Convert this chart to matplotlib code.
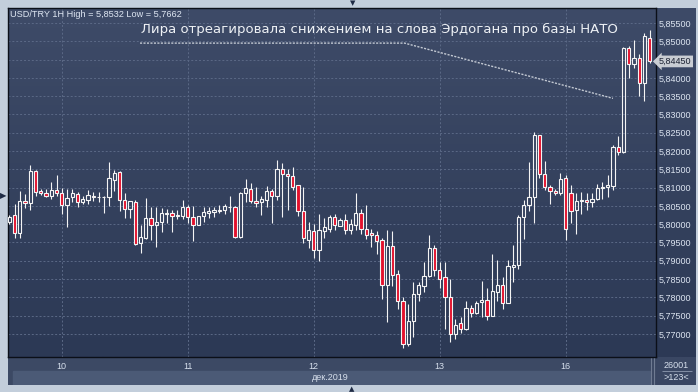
import numpy as np
import matplotlib
matplotlib.use("Agg")
import matplotlib.pyplot as plt
from matplotlib.colors import LinearSegmentedColormap
from matplotlib.patches import Rectangle
from matplotlib.ticker import FuncFormatter

# USD/TRY 1H candles, Dec 9 14:00 .. Dec 16 16:00
opens = [5.8005, 5.8024, 5.7975, 5.8064, 5.8057, 5.8145, 5.8091, 5.8085, 5.8078, 5.8094,
         5.8085, 5.8052, 5.8074, 5.8082, 5.8060, 5.8067, 5.8078, 5.8074, 5.8074, 5.8075,
         5.8122, 5.8142, 5.8067, 5.8041, 5.8060, 5.7948, 5.7962, 5.8016, 5.7999, 5.8005,
         5.8029, 5.8030, 5.8023, 5.8023, 5.8046, 5.8019, 5.7998, 5.8023, 5.8030, 5.8034,
         5.8036, 5.8039, 5.8047, 5.8046, 5.7966, 5.8085, 5.8097, 5.8064, 5.8060, 5.8067,
         5.8090, 5.8078, 5.8151, 5.8138, 5.8132, 5.8108, 5.8036, 5.7957, 5.7982, 5.7930,
         5.7982, 5.7988, 5.8019, 5.7996, 5.8011, 5.7985, 5.7999, 5.8031, 5.7988, 5.7977,
         5.7971, 5.7956, 5.7834, 5.7940, 5.7864, 5.7790, 5.7672, 5.7736, 5.7810, 5.7832,
         5.7858, 5.7935, 5.7875, 5.7855, 5.7800, 5.7700, 5.7730, 5.7714, 5.7771, 5.7757,
         5.7787, 5.7793, 5.7748, 5.7815, 5.7834, 5.7784, 5.7884, 5.7889, 5.8020, 5.8052,
         5.8075, 5.8244, 5.8136, 5.8102, 5.8092, 5.8084, 5.8127, 5.8084, 5.8038, 5.8063,
         5.8065, 5.8061, 5.8070, 5.8099, 5.8101, 5.8105, 5.8212, 5.8198, 5.8483, 5.8437,
         5.8455, 5.8386, 5.8509]
highs = [5.8025, 5.8054, 5.8090, 5.8083, 5.8162, 5.8149, 5.8097, 5.8097, 5.8115, 5.8135,
         5.8099, 5.8097, 5.8097, 5.8087, 5.8076, 5.8094, 5.8089, 5.8089, 5.8076, 5.8170,
         5.8149, 5.8145, 5.8085, 5.8064, 5.8066, 5.7998, 5.8071, 5.8046, 5.8046, 5.8044,
         5.8042, 5.8038, 5.8038, 5.8066, 5.8053, 5.8051, 5.8023, 5.8046, 5.8046, 5.8046,
         5.8053, 5.8054, 5.8078, 5.8051, 5.8088, 5.8124, 5.8113, 5.8101, 5.8078, 5.8104,
         5.8097, 5.8176, 5.8168, 5.8151, 5.8156, 5.8108, 5.8101, 5.8005, 5.8000, 5.8028,
         5.8017, 5.8025, 5.8028, 5.8017, 5.8028, 5.8014, 5.8086, 5.8042, 5.8053, 5.7988,
         5.7981, 5.7963, 5.7985, 5.7981, 5.7874, 5.7802, 5.7782, 5.7842, 5.7842, 5.7898,
         5.7970, 5.7942, 5.7896, 5.7898, 5.7851, 5.7741, 5.7746, 5.7791, 5.7779, 5.7791,
         5.7846, 5.7825, 5.7919, 5.7903, 5.7855, 5.7901, 5.7944, 5.8024, 5.8065, 5.8169,
         5.8253, 5.8244, 5.8173, 5.8108, 5.8096, 5.8139, 5.8134, 5.8108, 5.8086, 5.8088,
         5.8086, 5.8086, 5.8111, 5.8116, 5.8134, 5.8217, 5.8240, 5.8484, 5.8487, 5.8503,
         5.8464, 5.8524, 5.8532]
lows = [5.8000, 5.7962, 5.7962, 5.8043, 5.8040, 5.8076, 5.8080, 5.8074, 5.8069, 5.8076,
        5.8029, 5.7993, 5.8062, 5.8048, 5.8054, 5.8056, 5.8064, 5.8062, 5.8031, 5.8051,
        5.8092, 5.8035, 5.8016, 5.8016, 5.7943, 5.7920, 5.7960, 5.7958, 5.7938, 5.7978,
        5.8004, 5.7980, 5.8014, 5.8014, 5.8002, 5.7955, 5.7998, 5.8006, 5.8018, 5.8021,
        5.8031, 5.8027, 5.8032, 5.7961, 5.7963, 5.8062, 5.8058, 5.8046, 5.8025, 5.8046,
        5.8003, 5.8066, 5.8020, 5.8040, 5.8094, 5.8023, 5.7948, 5.7935, 5.7907, 5.7900,
        5.7962, 5.7979, 5.7985, 5.7994, 5.7973, 5.7973, 5.7985, 5.7973, 5.7959, 5.7938,
        5.7919, 5.7796, 5.7734, 5.7831, 5.7768, 5.7662, 5.7668, 5.7691, 5.7789, 5.7816,
        5.7855, 5.7858, 5.7825, 5.7714, 5.7679, 5.7687, 5.7703, 5.7712, 5.7747, 5.7755,
        5.7746, 5.7737, 5.7748, 5.7791, 5.7767, 5.7784, 5.7842, 5.7878, 5.7960, 5.8035,
        5.8004, 5.8127, 5.8093, 5.8054, 5.8081, 5.8081, 5.7958, 5.8004, 5.7974, 5.8029,
        5.8038, 5.8047, 5.8065, 5.8070, 5.8074, 5.8093, 5.8189, 5.8194, 5.8400, 5.8426,
        5.8350, 5.8338, 5.8440]
closes = [5.8021, 5.7975, 5.8064, 5.8057, 5.8145, 5.8087, 5.8085, 5.8078, 5.8094, 5.8085,
          5.8052, 5.8071, 5.8086, 5.8060, 5.8069, 5.8079, 5.8073, 5.8075, 5.8075, 5.8126,
          5.8140, 5.8067, 5.8041, 5.8064, 5.7945, 5.7964, 5.8016, 5.7999, 5.8005, 5.8030,
          5.8030, 5.8023, 5.8024, 5.8046, 5.8019, 5.7998, 5.8023, 5.8032, 5.8036, 5.8039,
          5.8040, 5.8049, 5.8046, 5.7966, 5.8085, 5.8098, 5.8064, 5.8057, 5.8069, 5.8090,
          5.8078, 5.8151, 5.8137, 5.8131, 5.8103, 5.8037, 5.7961, 5.7984, 5.7930, 5.7984,
          5.7991, 5.8019, 5.7998, 5.8011, 5.7985, 5.8000, 5.8031, 5.7987, 5.7971, 5.7971,
          5.7953, 5.7834, 5.7940, 5.7862, 5.7789, 5.7672, 5.7736, 5.7810, 5.7834, 5.7858,
          5.7935, 5.7874, 5.7849, 5.7800, 5.7700, 5.7725, 5.7714, 5.7770, 5.7757, 5.7785,
          5.7793, 5.7748, 5.7817, 5.7834, 5.7784, 5.7885, 5.7889, 5.8020, 5.8052, 5.8075,
          5.8244, 5.8136, 5.8102, 5.8090, 5.8085, 5.8123, 5.7986, 5.8035, 5.8063, 5.8065,
          5.8061, 5.8070, 5.8099, 5.8101, 5.8108, 5.8212, 5.8198, 5.8483, 5.8437, 5.8455,
          5.8386, 5.8515, 5.8445]

day_ticks = [10, 34, 58, 82, 106]
day_labels = ["10", "11", "12", "13", "16"]
price_ticks = [5.770, 5.775, 5.780, 5.785, 5.790, 5.795, 5.800, 5.805, 5.810,
               5.815, 5.820, 5.825, 5.830, 5.835, 5.840, 5.845, 5.850, 5.855]
last_price = 5.8445
header = "USD/TRY 1H High = 5,8532 Low = 5,7662"
note = "Лира отреагировала снижением на слова Эрдогана про базы НАТО"
note_line_x = [24.9, 75.3, 115.0]
note_line_y = [5.8495, 5.8495, 5.8344]

W, H = 698, 392


def box(x0, y0, x1, y1):
    # pixel box (top-left origin) -> figure fraction rect
    return [x0 / W, 1 - y1 / H, (x1 - x0) / W, (y1 - y0) / H]


fig = plt.figure(figsize=(W / 100, H / 100), dpi=100, facecolor="#c3cedb")

# gradient background behind plot + price scale
bg = fig.add_axes(box(8, 8, 696, 357))
bg.axis("off")
cmap = LinearSegmentedColormap.from_list("bg", ["#2c3955", "#3e4b68"])
bg.imshow(np.linspace(0, 1, 256).reshape(-1, 1)[::-1], cmap=cmap, aspect="auto",
          extent=[0, 1, 0, 1])

# time scale band
band = fig.add_axes(box(8, 357, 656, 385))
band.set_xlim(8, 656)
band.set_ylim(385, 357)
band.axis("off")
band.add_patch(Rectangle((8, 357), 648, 28, color="#3c4964"))
band.add_patch(Rectangle((13, 371), 637, 14, color="#4b5a76"))
band.vlines([650.5, 653.5], 357, 385, color="#6f7b92", lw=0.8)
band.text(330, 377.5, "дек.2019", color="#d6dfec", fontsize=6.5,
          family="Liberation Sans", ha="center", va="center")

rb = fig.add_axes(box(656, 357, 696, 385))
rb.set_xlim(656, 696)
rb.set_ylim(385, 357)
rb.axis("off")
rb.add_patch(Rectangle((656, 357), 40, 28, color="#3a4763"))
rb.hlines(371, 662, 692, color="#8e9ab0", lw=0.6)
rb.text(676, 365, "26001", color="#d6dfec", fontsize=6.5, family="Liberation Sans",
        ha="center", va="center")
rb.text(676, 378, ">123<", color="#d6dfec", fontsize=6.5, family="Liberation Sans",
        ha="center", va="center")

ax = fig.add_axes(box(8, 8, 656, 357))
ax.patch.set_alpha(0)

o = np.array(opens)
h = np.array(highs)
l = np.array(lows)
c = np.array(closes)
x = np.arange(len(o))
up = c >= o
lo = np.minimum(o, c)
hi = np.maximum(o, c)
size = np.maximum(hi - lo, 0.00004)

ax.vlines(x, hi, h, color="#f4f4f4", lw=0.8, zorder=3)
ax.vlines(x, l, lo, color="#f4f4f4", lw=0.8, zorder=3)
ax.bar(x[up], size[up], bottom=lo[up], width=0.62, facecolor="none",
       edgecolor="#f4f4f4", linewidth=0.8, zorder=3)
ax.bar(x[~up], size[~up], bottom=lo[~up], width=0.62, facecolor="#e3112d",
       edgecolor="#f4f4f4", linewidth=0.8, zorder=3)

ax.set_xlim(-0.25, 123.2)
ax.set_ylim(5.7637, 5.8591)
ax.set_xticks(day_ticks)
ax.set_xticklabels(day_labels)
ax.set_yticks(price_ticks)
ax.yaxis.set_major_formatter(FuncFormatter(lambda v, p: f"{v:.5f}".replace(".", ",")))
ax.yaxis.tick_right()
ax.tick_params(axis="y", length=0, pad=2, labelsize=6.5, labelcolor="#dce4f0")
ax.tick_params(axis="x", length=0, pad=3.5, labelsize=6.5, labelcolor="#d6dfec")
for lab in ax.get_xticklabels() + ax.get_yticklabels():
    lab.set_family("Liberation Sans")
ax.grid(True, color="#5b6986", linestyle=(0, (2, 2)), lw=0.7)
ax.set_axisbelow(True)
for s in ax.spines.values():
    s.set_color("#0b0f18")
    s.set_linewidth(1)

ax.plot(note_line_x, note_line_y, color="#c3c9d3", lw=1, linestyle=(0, (1.5, 1)),
        zorder=4)
ax.text(note_line_x[0] + 0.1, 5.8533, note, color="#eef1f5", fontsize=9.55,
        family="DejaVu Sans", va="center", ha="left", zorder=5)

ax.text(123.8, last_price, "5,84450", transform=ax.transData, color="#1b2132",
        fontsize=6.5, family="Liberation Sans", va="center", ha="left", clip_on=False,
        bbox=dict(boxstyle="larrow,pad=0.15", fc="#c9cdd3", ec="none"))

fig.text(10 / W, 1 - 14.5 / H, header, color="#dfe7f3", fontsize=6.6,
         family="Liberation Sans", va="center", ha="left")

# small scroll markers on the frame
fig.text(3.5 / W, 1 - 196 / H, "▶", color="#1e2a44", fontsize=6, ha="center", va="center")
fig.text(353 / W, 1 - 3 / H, "▼", color="#1e2a44", fontsize=5, ha="center", va="center")
fig.text(352 / W, 1 - 389 / H, "▲", color="#1e2a44", fontsize=5, ha="center", va="center")

fig.savefig("out.png", dpi=100, facecolor=fig.get_facecolor())
